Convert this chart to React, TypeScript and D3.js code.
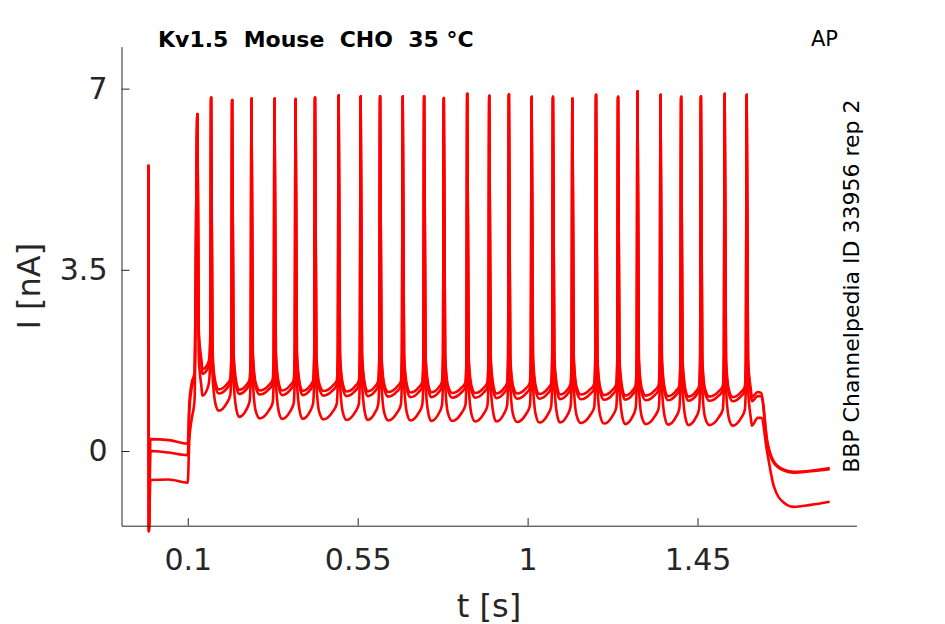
import React, { useEffect, useRef } from 'react';
import * as d3 from 'd3';

// spike times [s] and peak currents [nA], shared by the three sweeps
const spikeTimes = [
  0.1255, 0.1618, 0.2175, 0.2687, 0.3297, 0.3854, 0.4369, 0.4995, 0.5578,
  0.6093, 0.6692, 0.726, 0.778, 0.8401, 0.8984, 0.9504, 1.0106, 1.0671,
  1.1186, 1.1812, 1.2395, 1.291, 1.352, 1.4066, 1.4589, 1.5218, 1.5801,
];
const spikePeaks = [
  6.51, 6.83, 6.78, 6.81, 6.81, 6.8, 6.83, 6.87, 6.85, 6.85, 6.85, 6.85,
  6.82, 6.9, 6.86, 6.89, 6.84, 6.84, 6.81, 6.88, 6.84, 6.95, 6.88, 6.84,
  6.85, 6.9, 6.88,
];

// capacitive transient at t = 0
const transientTimes = [-0.004, -0.003];
const transientValues = [5.53, -1.55];

// holding level before the stimulus
const preTimes = [0.001, 0.05, 0.099];
const preA = [0.23, 0.21, 0.14];
const preB = [0.0, -0.03, -0.08];
const preC = [-0.56, -0.55, -0.61];

// stimulus onset
const riseTimes = [0.1, 0.104, 0.11, 0.118];
const riseA = [0.14, 0.9, 1.3, 1.52];
const riseB = [-0.08, 0.75, 1.2, 1.44];
const riseC = [-0.61, 0.2, 0.6, 0.98];

// minimum between consecutive spikes
const troughA = [
  1.58, 1.19, 1.18, 1.17, 1.17, 1.16, 1.16, 1.15, 1.15, 1.14, 1.13, 1.13,
  1.12, 1.12, 1.11, 1.11, 1.1, 1.09, 1.09, 1.08, 1.07, 1.07, 1.06, 1.05,
  1.05, 1.04, 1.04,
];
const troughB = [
  1.49, 1.11, 1.1, 1.09, 1.08, 1.08, 1.07, 1.06, 1.06, 1.05, 1.04, 1.04,
  1.03, 1.03, 1.02, 1.01, 1.01, 1.0, 1.0, 0.99, 0.99, 0.98, 0.98, 0.97,
  0.97, 0.96, 0.96,
];
const troughC = [
  1.07, 0.78, 0.66, 0.63, 0.62, 0.62, 0.61, 0.6, 0.6, 0.59, 0.59, 0.58,
  0.58, 0.57, 0.57, 0.56, 0.55, 0.55, 0.54, 0.53, 0.52, 0.52, 0.51, 0.5,
  0.5, 0.49, 0.49,
];
const rampRise = [0.2, 0.2, 0.3];

// stimulus offset and tail
const tailTimes = [1.619, 1.634, 1.652, 1.679, 1.705, 1.75, 1.8];
const tailA = [1.12, 0.22, -0.2, -0.36, -0.4, -0.38, -0.33];
const tailB = [1.06, 0.18, -0.23, -0.38, -0.42, -0.39, -0.35];
const tailC = [0.64, 0.0, -0.68, -1.0, -1.08, -1.04, -0.98];

const xTicks = [0.1, 0.55, 1, 1.45];
const yTicks = [0, 3.5, 7];

const buildTrace = (
  pre: number[], rise: number[], trough: number[], ramp: number, tail: number[]
): [number, number][] => {
  const pts: [number, number][] = [];
  transientTimes.forEach((t, i) => pts.push([t, transientValues[i]]));
  preTimes.forEach((t, i) => pts.push([t, pre[i]]));
  riseTimes.forEach((t, i) => pts.push([t, rise[i]]));
  spikeTimes.forEach((ts, i) => {
    const last = i === spikeTimes.length - 1;
    const tn = last ? tailTimes[0] : spikeTimes[i + 1];
    const dt = tn - ts;
    const tr = trough[i];
    pts.push([ts, spikePeaks[i]]);
    pts.push([ts + 0.0035, tr + 0.75]);
    pts.push([ts + 0.011, tr + 0.15]);
    pts.push([ts + 0.36 * dt, tr]);
    pts.push([ts + 0.75 * dt, tr + ramp * 0.5]);
    if (!last) {
      pts.push([tn - 0.005, tr + ramp]);
      pts.push([tn - 0.002, tr + ramp + 0.5]);
    }
  });
  tailTimes.forEach((t, i) => pts.push([t, tail[i]]));
  return pts;
};

const App: React.FC = () => {
  const chartRef = useRef<SVGSVGElement>(null);

  useEffect(() => {
    if (!chartRef.current) return;
    const svg = d3.select(chartRef.current);
    svg.selectAll('*').remove();

    const width = 945;
    const height = 624;
    const plot = { left: 121.5, right: 856.5, top: 46.7, bottom: 525.7 };
    const font = 'DejaVu Sans, sans-serif';
    const axisColor = '#262626';

    svg.attr('width', width).attr('height', height);

    const x = d3.scaleLinear().domain([-0.0755, 1.871]).range([plot.left, plot.right]);
    const y = d3.scaleLinear().domain([-1.443, 7.81]).range([plot.bottom, plot.top]);

    // traces
    const line = d3.line<[number, number]>()
      .x(d => x(d[0]))
      .y(d => y(d[1]))
      .curve(d3.curveMonotoneX);

    const traces = [
      buildTrace(preA, riseA, troughA, rampRise[0], tailA),
      buildTrace(preB, riseB, troughB, rampRise[1], tailB),
      buildTrace(preC, riseC, troughC, rampRise[2], tailC),
    ];

    svg.append('g')
      .selectAll('path')
      .data(traces)
      .enter()
      .append('path')
      .attr('d', d => line(d) as string)
      .attr('fill', 'none')
      .attr('stroke', '#ff0000')
      .attr('stroke-width', 2.6)
      .attr('stroke-linejoin', 'round');

    // x axis
    const gx = svg.append('g')
      .attr('transform', `translate(0, ${plot.bottom})`)
      .call(d3.axisBottom(x).tickValues(xTicks).tickFormat(d => String(d))
        .tickSizeInner(-7.5).tickSizeOuter(0).tickPadding(23.5));
    gx.select('.domain').attr('stroke', axisColor);
    gx.selectAll('line').attr('stroke', axisColor);
    gx.selectAll('text').attr('font-family', font).attr('font-size', 30).attr('fill', axisColor);

    // y axis
    const gy = svg.append('g')
      .attr('transform', `translate(${plot.left}, 0)`)
      .call(d3.axisLeft(y).tickValues(yTicks).tickFormat(d => String(d))
        .tickSizeInner(-8).tickSizeOuter(0).tickPadding(14));
    gy.select('.domain').attr('stroke', axisColor);
    gy.selectAll('line').attr('stroke', axisColor);
    gy.selectAll('text').attr('font-family', font).attr('font-size', 30).attr('fill', axisColor);

    // axis labels
    svg.append('text')
      .attr('x', (plot.left + plot.right) / 2)
      .attr('y', 617)
      .attr('text-anchor', 'middle')
      .attr('font-family', font)
      .attr('font-size', 32)
      .attr('fill', axisColor)
      .text('t [s]');

    svg.append('text')
      .attr('transform', `translate(40, ${(plot.top + plot.bottom) / 2}) rotate(-90)`)
      .attr('text-anchor', 'middle')
      .attr('font-family', font)
      .attr('font-size', 32)
      .attr('fill', axisColor)
      .text('I [nA]');

    // title and annotations
    svg.append('text')
      .attr('x', 158)
      .attr('y', 46.5)
      .attr('font-family', font)
      .attr('font-size', 22)
      .attr('font-weight', 'bold')
      .attr('fill', '#000')
      .style('white-space', 'pre')
      .text('Kv1.5  Mouse  CHO  35 °C');

    svg.append('text')
      .attr('x', 811)
      .attr('y', 46)
      .attr('font-family', font)
      .attr('font-size', 21)
      .attr('fill', '#000')
      .text('AP');

    svg.append('text')
      .attr('transform', `translate(858.5, ${(plot.top + plot.bottom) / 2}) rotate(-90)`)
      .attr('text-anchor', 'middle')
      .attr('font-family', font)
      .attr('font-size', 22)
      .attr('fill', '#000')
      .text('BBP Channelpedia ID 33956 rep 2');
  }, []);

  return (
    <div style={{ position: 'absolute', left: 0, top: 0, background: '#fff' }}>
      <svg ref={chartRef} style={{ display: 'block' }}></svg>
    </div>
  );
};

export default App;
